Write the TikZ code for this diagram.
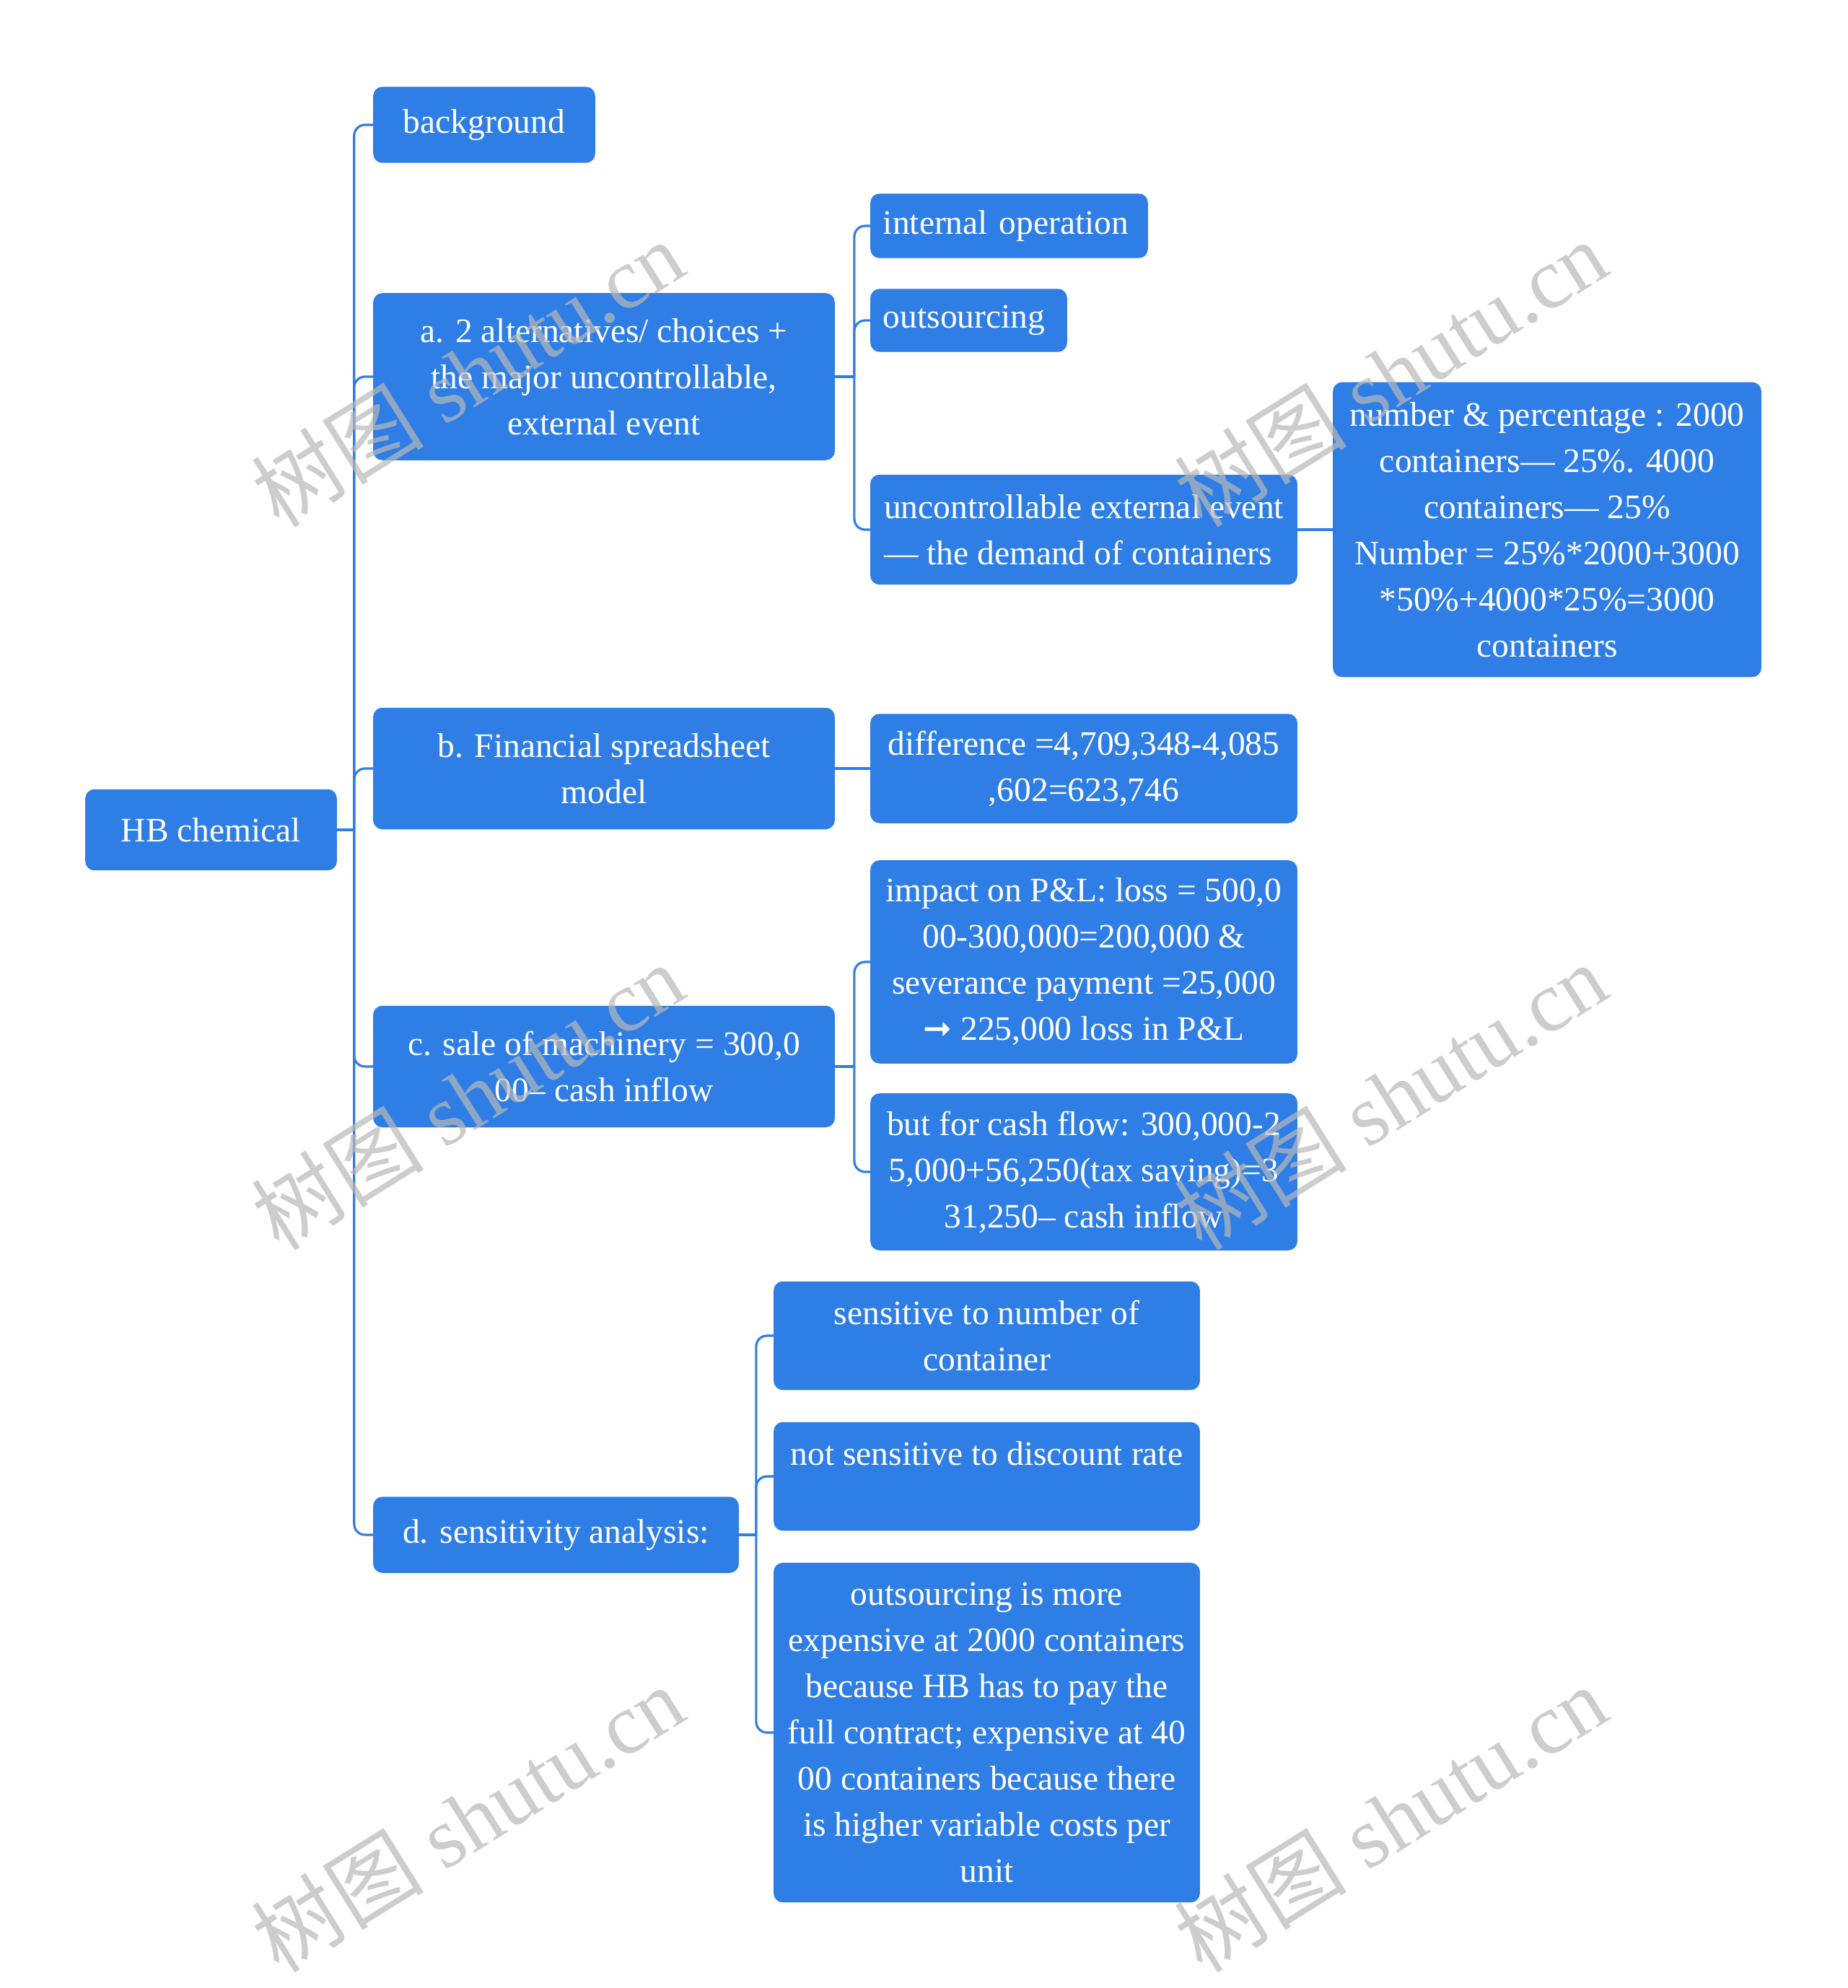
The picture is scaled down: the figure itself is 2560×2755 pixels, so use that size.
\documentclass[tikz,border=0pt]{standalone}
\usepackage{fontspec}
\setmainfont{Liberation Serif}
\newfontfamily\cjkfont{Noto Sans CJK SC}
\newfontfamily\arrowfont{DejaVu Sans}
\usetikzlibrary{positioning}
\definecolor{boxblue}{HTML}{2F7EE6}
\definecolor{wmgray}{HTML}{B8B8B8}

\begin{document}
\begin{tikzpicture}[x=0.01cm,y=-0.01cm,
  topic/.style={draw=boxblue,fill=boxblue,text=white,rounded corners=0.12cm,inner sep=0.08cm,align=center,font=\fontsize{13.5}{18.2}\selectfont},
  link/.style={draw=boxblue,line width=0.9pt,rounded corners=0.15cm},
  wmark/.style={text=wmgray,opacity=0.7,rotate=32,font=\fontsize{34}{38}\selectfont}]
\useasboundingbox (0,0) rectangle (2560,2755);
\node[topic,minimum width=3.47cm,minimum height=1.11cm] (hb) at (292.5,1150) {HB chemical};
\node[topic,minimum width=3.06cm,minimum height=1.04cm] (bg) at (671,173) {background};
\node[topic,minimum width=6.38cm,minimum height=2.30cm] (alt) at (837,522) {a. 2 alternatives/ choices +\\the major uncontrollable,\\external event};
\node[topic,inner xsep=0.17cm,text width=3.49cm,align=left,minimum height=0.88cm] (io) at (1398.5,313) {internal operation};
\node[topic,inner xsep=0.17cm,text width=2.37cm,align=left,minimum height=0.86cm] (os) at (1342.5,444) {outsourcing};
\node[topic,minimum width=5.90cm,minimum height=1.51cm,align=left] (uee) at (1502,734) {uncontrollable external event\\— the demand of containers};
\node[topic,minimum width=5.92cm,minimum height=4.07cm] (num) at (2144,734) {number \& percentage : 2000\\containers— 25\%. 4000\\containers— 25\%\\Number = 25\%*2000+3000\\*50\%+4000*25\%=3000\\containers};
\node[topic,minimum width=6.38cm,minimum height=1.67cm] (fin) at (837,1065) {b. Financial spreadsheet\\model};
\node[topic,minimum width=5.90cm,minimum height=1.50cm] (diff) at (1502,1065) {difference =4,709,348-4,085\\,602=623,746};
\node[topic,minimum width=6.38cm,minimum height=1.67cm] (sale) at (837,1478) {c. sale of machinery = 300,0\\00– cash inflow};
\node[topic,minimum width=5.90cm,minimum height=2.80cm] (pl) at (1502,1333) {impact on P\&L: loss = 500,0\\00-300,000=200,000 \&\\severance payment =25,000\\{\arrowfont ➞} 225,000 loss in P\&L};
\node[topic,minimum width=5.90cm,minimum height=2.16cm] (cf) at (1502,1624) {but for cash flow: 300,000-2\\5,000+56,250(tax saving)=3\\31,250– cash inflow};
\node[topic,minimum width=5.05cm,minimum height=1.04cm] (sens) at (770.5,2127) {d. sensitivity analysis:};
\node[topic,minimum width=5.89cm,minimum height=1.49cm] (s1) at (1367.5,1851) {sensitive to number of\\container};
\node[topic,minimum width=5.89cm,minimum height=1.49cm] (s2) at (1367.5,2046) {not sensitive to discount rate\\[-0.2cm]\strut};
\node[topic,minimum width=5.89cm,minimum height=4.69cm] (s3) at (1367.5,2401) {outsourcing is more\\expensive at 2000 containers\\because HB has to pay the\\full contract; expensive at 40\\00 containers because there\\is higher variable costs per\\unit};
\path (hb.east) -- ++(24,0) coordinate (hbj);
\path (alt.east) -- ++(27,0) coordinate (altj);
\path (sale.east) -- ++(27,0) coordinate (salej);
\path (sens.east) -- ++(24,0) coordinate (sensj);
\draw[link] (hb.east) -- (hbj);
\draw[link] (hbj) |- (bg.west);
\draw[link] (hbj) |- (alt.west);
\draw[link] (hbj) |- (fin.west);
\draw[link] (hbj) |- (sale.west);
\draw[link] (hbj) |- (sens.west);
\draw[link] (alt.east) -- (altj);
\draw[link] (altj) |- (io.west);
\draw[link] (altj) |- (os.west);
\draw[link] (altj) |- (uee.west);
\draw[link] (uee.east) -- (num.west);
\draw[link] (fin.east) -- (fin.east -| diff.west);
\draw[link] (sale.east) -- (salej);
\draw[link] (salej) |- (pl.west);
\draw[link] (salej) |- (cf.west);
\draw[link] (sens.east) -- (sensj);
\draw[link] (sensj) |- (s1.west);
\draw[link] (sensj) |- (s2.west);
\draw[link] (sensj) |- (s3.west);
\node[wmark] (wm1) at (648,517) {{\cjkfont 树图} shutu.cn};
\node[wmark] (wm2) at (1927,517) {{\cjkfont 树图} shutu.cn};
\node[wmark] (wm3) at (648,1519) {{\cjkfont 树图} shutu.cn};
\node[wmark] (wm4) at (1927,1519) {{\cjkfont 树图} shutu.cn};
\node[wmark] (wm5) at (648,2520) {{\cjkfont 树图} shutu.cn};
\node[wmark] (wm6) at (1927,2520) {{\cjkfont 树图} shutu.cn};
\end{tikzpicture}
\end{document}
